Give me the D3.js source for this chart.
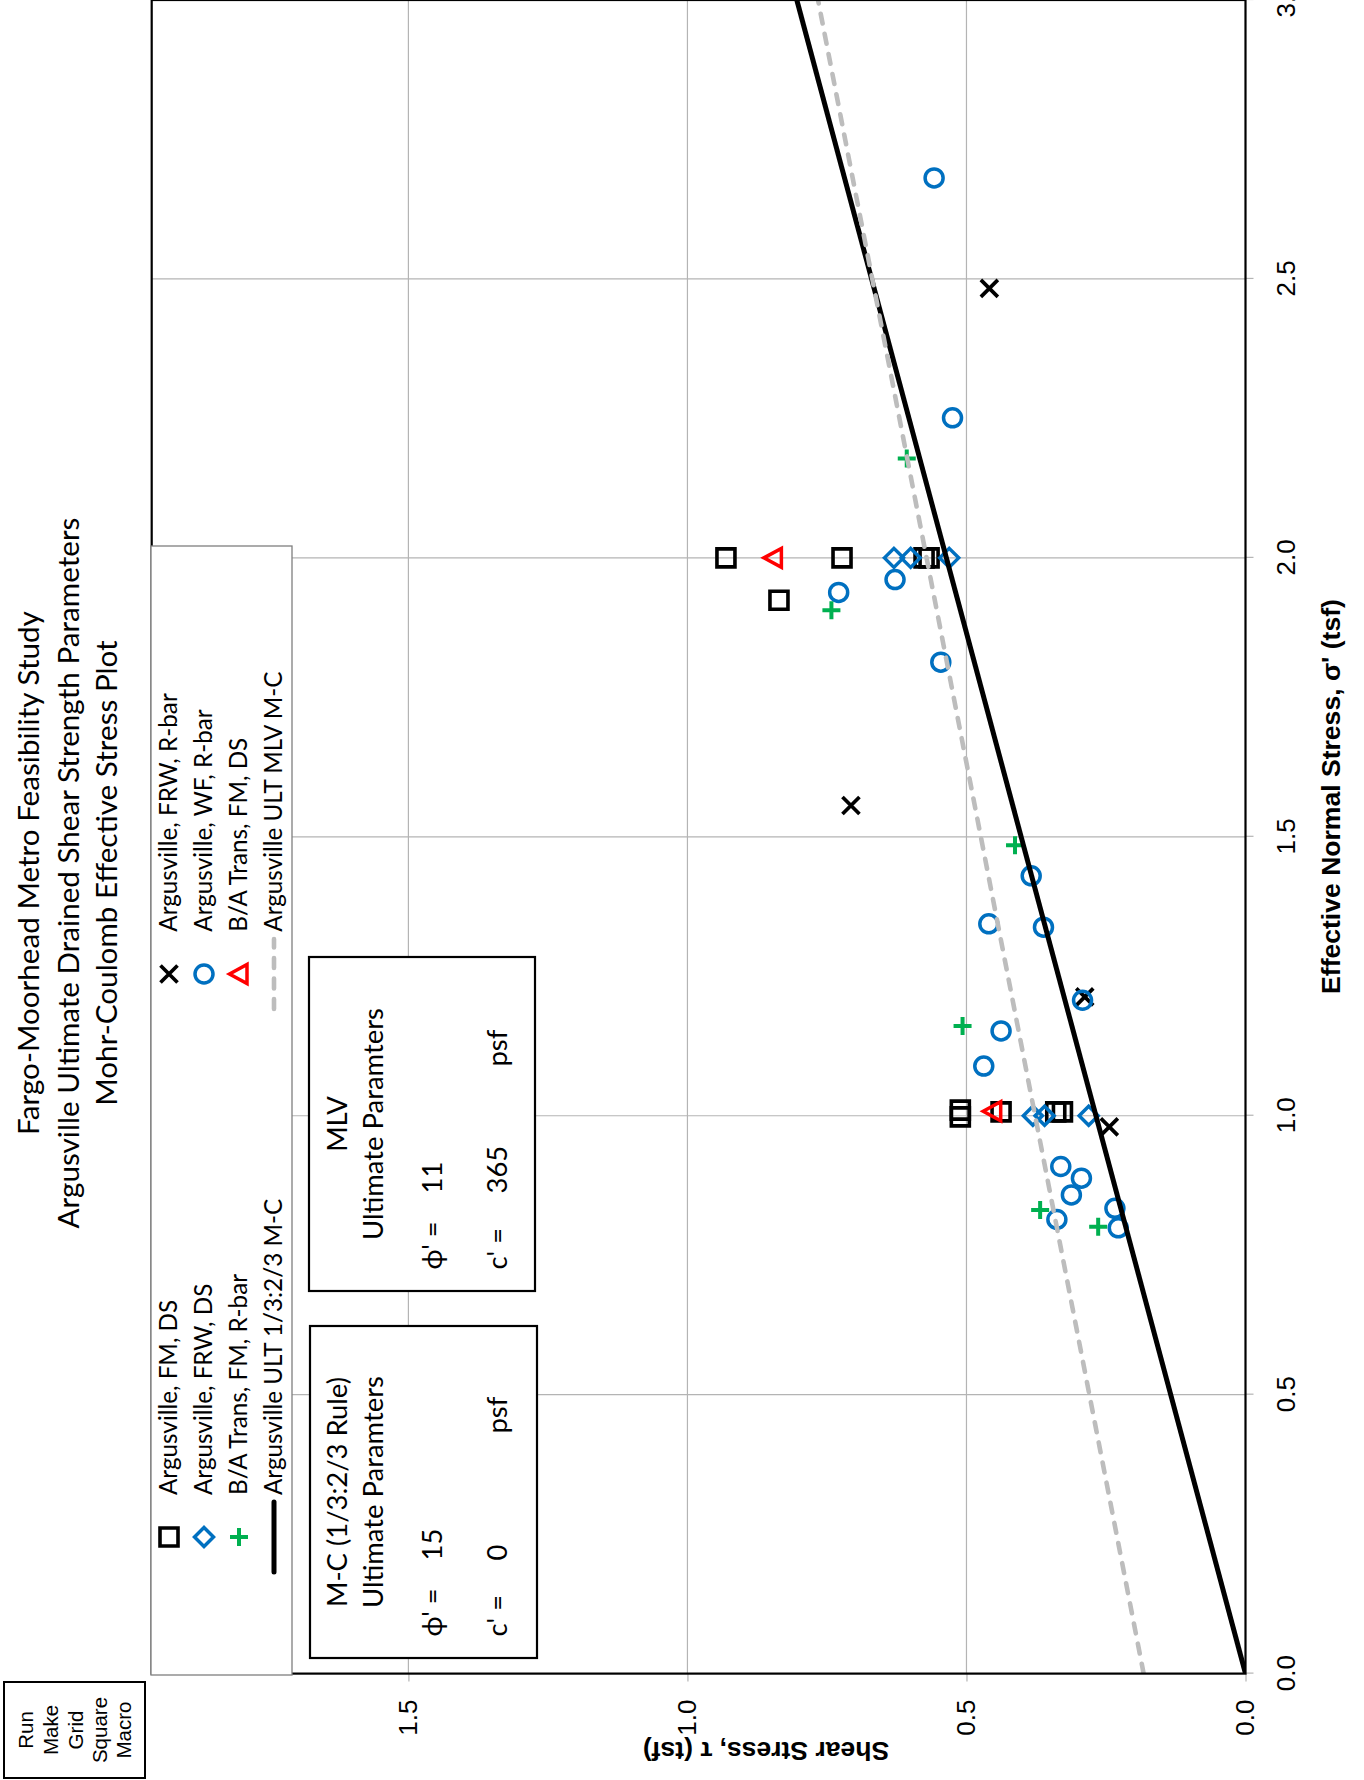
<!DOCTYPE html>
<html><head><meta charset="utf-8">
<script src="https://cdn.jsdelivr.net/npm/d3@7"></script>
<style>body{margin:0;background:#fff} svg{display:block}</style>
</head><body><svg id="c" width="1364" height="1780"></svg>
<script>
// ---------------- DATA ----------------
const titleLines = ["Fargo-Moorhead Metro Feasibility Study",
  "Argusville Ultimate Drained Shear Strength Parameters",
  "Mohr-Coulomb Effective Stress Plot"];
const xTitle = "Effective Normal Stress, σ' (tsf)";
const yTitle = "Shear Stress, τ (tsf)";
const sigmaTicks = [0, 0.5, 1.0, 1.5, 2.0, 2.5, 3.0];
const tauTicks = [0, 0.5, 1.0, 1.5];
const sigmaDomain = [0, 3];
const tauDomain = [0, 1.96];

// Argusville, FM, DS (squares)
const fmDsSigma = [2.0, 2.0, 2.0, 2.0, 1.924, 1.010, 0.998, 1.007, 1.007, 1.007];
const fmDsTau   = [0.931, 0.723, 0.576, 0.567, 0.836, 0.511, 0.511, 0.438, 0.340, 0.328];
// Argusville, FRW, R-bar (x)
const frwRSigma = [2.483, 1.556, 1.213, 0.980];
const frwRTau   = [0.459, 0.707, 0.288, 0.244];
// Argusville, FRW, DS (diamonds)
const frwDsSigma = [2.0, 2.0, 2.0, 1.0, 1.0, 1.0];
const frwDsTau   = [0.630, 0.600, 0.531, 0.381, 0.360, 0.281];
// Argusville, WF, R-bar (circles)
const wfRSigma = [2.681, 2.251, 1.938, 1.961, 1.813, 1.430, 1.344, 1.338, 1.207, 1.152, 1.089, 0.909, 0.888, 0.858, 0.814, 0.834, 0.799];
const wfRTau   = [0.558, 0.525, 0.729, 0.628, 0.546, 0.384, 0.460, 0.362, 0.292, 0.438, 0.469, 0.331, 0.294, 0.312, 0.338, 0.234, 0.228];
// B/A Trans, FM, R-bar (plus)
const baRSigma = [2.178, 1.906, 1.485, 1.161, 0.831, 0.801];
const baRTau   = [0.607, 0.742, 0.413, 0.507, 0.368, 0.264];
// B/A Trans, FM, DS (triangles)
const baDsSigma = [2.0, 1.008];
const baDsTau   = [0.846, 0.453];
// Argusville ULT 1/3:2/3 M-C  (phi' = 15, c' = 0 psf)
const mcSigma = [0, 3];
const mcTau   = [0, 0.804];
// Argusville ULT MLV M-C (phi' = 11, c' = 365 psf)
const mlvSigma = [0, 3];
const mlvTau   = [0.1825, 0.766];

const legendLabels = ["Argusville, FM, DS", "Argusville, FRW, R-bar",
  "Argusville, FRW, DS", "Argusville, WF, R-bar",
  "B/A Trans, FM, R-bar", "B/A Trans, FM, DS",
  "Argusville ULT 1/3:2/3 M-C", "Argusville ULT MLV M-C"];
const mcBoxText = ["M-C (1/3:2/3 Rule)", "Ultimate Paramters", "15", "0"];
const mlvBoxText = ["MLV", "Ultimate Paramters", "11", "365"];
const buttonText = ["Run", "Make", "Grid", "Square", "Macro"];

// ---------------- DRAW ----------------
const CAL = "Lato, 'Noto Sans', 'DejaVu Sans', sans-serif";
const ARI = "'Liberation Sans', Arial, sans-serif";
const BLUE = "#0070C0", GREEN = "#00B050", RED = "#FF0000", GRID = "#b4b4b4", DASH = "#bdbdbd";

const svg = d3.select("#c");
svg.append("rect").attr("width", 1364).attr("height", 1780).attr("fill", "#fff");
// whole chart is rotated: local (U,V) -> page (V, 1780-U)
const g = svg.append("g").attr("transform", "translate(0,1780) rotate(-90)");

const x = d3.scaleLinear().domain(sigmaDomain).range([106.4, 1780]);
const y = d3.scaleLinear().domain(tauDomain).range([1245.5, 151.7]);
const pw = x.range()[1] - x.range()[0], ph = y.range()[0] - y.range()[1];

function fitSize(family, weight, text, base, target) {
  const t = g.append("text").attr("font-family", family).attr("font-weight", weight)
    .attr("font-size", base).text(text);
  const w = t.node().getComputedTextLength(); t.remove();
  return base * target / w;
}
const titleSize = fitSize(CAL, "normal", titleLines[1], 28, 711);
const legSize = fitSize(CAL, "normal", legendLabels[1], 28, 238.6);
const boxSize = fitSize(CAL, "normal", mcBoxText[1], 28, 232);
const axTitleSize = fitSize(ARI, "bold", xTitle, 26, 395);

// plot area
g.append("rect").attr("x", x(0)).attr("y", y(tauDomain[1])).attr("width", pw).attr("height", ph).attr("fill", "#fff");

// gridlines
g.append("g").selectAll("line").data(sigmaTicks.filter(d => d > 0 && d < 3)).join("line")
  .attr("x1", d => x(d)).attr("x2", d => x(d)).attr("y1", y(0)).attr("y2", y(tauDomain[1]))
  .attr("stroke", GRID).attr("stroke-width", 1.2);
g.append("g").selectAll("line").data(tauTicks.filter(d => d > 0)).join("line")
  .attr("y1", d => y(d)).attr("y2", d => y(d)).attr("x1", x(0)).attr("x2", x(3))
  .attr("stroke", GRID).attr("stroke-width", 1.2);

// axes
const xAxis = g.append("g").attr("transform", `translate(0,${y(0)})`)
  .call(d3.axisBottom(x).tickValues(sigmaTicks).tickSize(8).tickPadding(23).tickFormat(d3.format(".1f")));
const yAxis = g.append("g").attr("transform", `translate(${x(0)},0)`)
  .call(d3.axisLeft(y).tickValues(tauTicks).tickSize(8).tickPadding(18).tickFormat(d3.format(".1f")));
[xAxis, yAxis].forEach(a => {
  a.select(".domain").remove();
  a.selectAll(".tick line").attr("stroke", GRID).attr("stroke-width", 1.2);
  a.selectAll(".tick text").attr("font-family", ARI).attr("font-size", 26).attr("fill", "#000");
});

// clip
g.append("clipPath").attr("id", "clip").append("rect")
  .attr("x", x(0)).attr("y", y(tauDomain[1])).attr("width", pw).attr("height", ph);
const plot = g.append("g").attr("clip-path", "url(#clip)");

// marker shapes
const shapes = {
  square: "M-9,-9H9V9H-9Z",
  x: "M-8.5,-8.5L8.5,8.5M-8.5,8.5L8.5,-8.5",
  diamond: "M0,-9.5L9.5,0L0,9.5L-9.5,0Z",
  circle: "M9,0A9,9 0 1,1 -9,0A9,9 0 1,1 9,0Z",
  plus: "M-9,0H9M0,-9V9",
  triangle: "M0,-9.5L9.5,8L-9.5,8Z"
};
const series = [
  {s: fmDsSigma, t: fmDsTau, shape: "square", color: "#000", w: 3.6},
  {s: frwRSigma, t: frwRTau, shape: "x", color: "#000", w: 3.7},
  {s: frwDsSigma, t: frwDsTau, shape: "diamond", color: BLUE, w: 3.5},
  {s: wfRSigma, t: wfRTau, shape: "circle", color: BLUE, w: 3.5},
  {s: baRSigma, t: baRTau, shape: "plus", color: GREEN, w: 4},
  {s: baDsSigma, t: baDsTau, shape: "triangle", color: RED, w: 3.5}
];
series.forEach(se => {
  plot.append("g").selectAll("path").data(se.s.map((v, i) => [v, se.t[i]])).join("path")
    .attr("d", shapes[se.shape]).attr("transform", d => `translate(${x(d[0])},${y(d[1])})`)
    .attr("fill", "none").attr("stroke", se.color).attr("stroke-width", se.w)
    .attr("stroke-linejoin", "miter");
});
const line = d3.line().x(d => x(d[0])).y(d => y(d[1]));
plot.append("path").attr("d", line(mcSigma.map((v, i) => [v, mcTau[i]])))
  .attr("fill", "none").attr("stroke", "#000").attr("stroke-width", 5);
plot.append("path").attr("d", line(mlvSigma.map((v, i) => [v, mlvTau[i]])))
  .attr("fill", "none").attr("stroke", DASH).attr("stroke-width", 4.6)
  .attr("stroke-linecap", "round").attr("stroke-dasharray", "10 10.5");

// frame
g.append("rect").attr("x", x(0)).attr("y", y(tauDomain[1])).attr("width", pw).attr("height", ph)
  .attr("fill", "none").attr("stroke", "#000").attr("stroke-width", 2.2);

// axis titles
g.append("text").attr("x", 983.5).attr("y", 1340).attr("text-anchor", "middle")
  .attr("font-family", ARI).attr("font-weight", "bold").attr("font-size", axTitleSize).text(xTitle);
g.append("text").attr("transform", "translate(38.3,766) rotate(-90)").attr("text-anchor", "middle")
  .attr("font-family", ARI).attr("font-weight", "bold").attr("font-size", axTitleSize).text(yTitle);

// chart title
const titleBase = [39.3, 78.7, 117.3];
g.append("g").selectAll("text").data(titleLines).join("text")
  .attr("x", 907).attr("y", (d, i) => titleBase[i]).attr("text-anchor", "middle")
  .attr("font-family", CAL).attr("font-size", titleSize).text(d => d);

// legend
const leg = g.append("g");
leg.append("rect").attr("x", 105).attr("y", 151).attr("width", 1129).attr("height", 141)
  .attr("fill", "#fff").attr("stroke", "#7f7f7f").attr("stroke-width", 1.3);
const colMarker = [243, 806], colText = [285, 848.3];
const rowMid = [169, 204, 239, 274], rowBase = [177.3, 212.3, 247.3, 282.3];
legendLabels.forEach((lab, i) => {
  const c = i % 2, r = Math.floor(i / 2);
  leg.append("text").attr("x", colText[c]).attr("y", rowBase[r]).attr("font-family", CAL)
    .attr("font-size", legSize).text(lab);
  if (i < 6) {
    const se = series[i];
    leg.append("path").attr("d", shapes[se.shape]).attr("transform", `translate(${colMarker[c]},${rowMid[r]})`)
      .attr("fill", "none").attr("stroke", se.color).attr("stroke-width", se.w);
  } else if (i === 6) {
    leg.append("line").attr("x1", colMarker[c] - 35).attr("x2", colMarker[c] + 35)
      .attr("y1", rowMid[r]).attr("y2", rowMid[r]).attr("stroke", "#000").attr("stroke-width", 5)
      .attr("stroke-linecap", "round");
  } else {
    leg.append("line").attr("x1", colMarker[c] - 35).attr("x2", colMarker[c] + 35)
      .attr("y1", rowMid[r]).attr("y2", rowMid[r]).attr("stroke", DASH).attr("stroke-width", 4.6)
      .attr("stroke-linecap", "round").attr("stroke-dasharray", "10 10.5");
  }
});

// parameter boxes
function paramBox(U0, V0, w, h, txt) {
  const b = g.append("g");
  b.append("rect").attr("x", U0).attr("y", V0).attr("width", w).attr("height", h)
    .attr("fill", "#fff").attr("stroke", "#000").attr("stroke-width", 2.2);
  const t = (xx, yy, s, anchor) => b.append("text").attr("x", xx).attr("y", yy)
    .attr("text-anchor", anchor || "start").attr("font-family", CAL).attr("font-size", boxSize).text(s);
  t(U0 + w / 2, 347, txt[0], "middle");
  t(U0 + w / 2, 383, txt[1], "middle");
  t(U0 + 21.5, 442, "ϕ' =");
  t(U0 + 97.5, 442, txt[2]);
  t(U0 + 21.5, 507, "c' =");
  t(U0 + 97.5, 507, txt[3]);
  t(U0 + 224.5, 507, "psf");
}
paramBox(122, 310, 332, 227, mcBoxText);
paramBox(489, 309, 334, 226, mlvBoxText);

// macro button
const btn = g.append("g");
btn.append("rect").attr("x", 2).attr("y", 4).attr("width", 96).attr("height", 141)
  .attr("fill", "#fff").attr("stroke", "#000").attr("stroke-width", 2);
const btnBase = [33.3, 58, 82.5, 107, 131];
btn.selectAll("text").data(buttonText).join("text").attr("x", 50).attr("y", (d, i) => btnBase[i])
  .attr("text-anchor", "middle").attr("font-family", ARI).attr("font-size", 20.5).text(d => d);
</script></body></html>
